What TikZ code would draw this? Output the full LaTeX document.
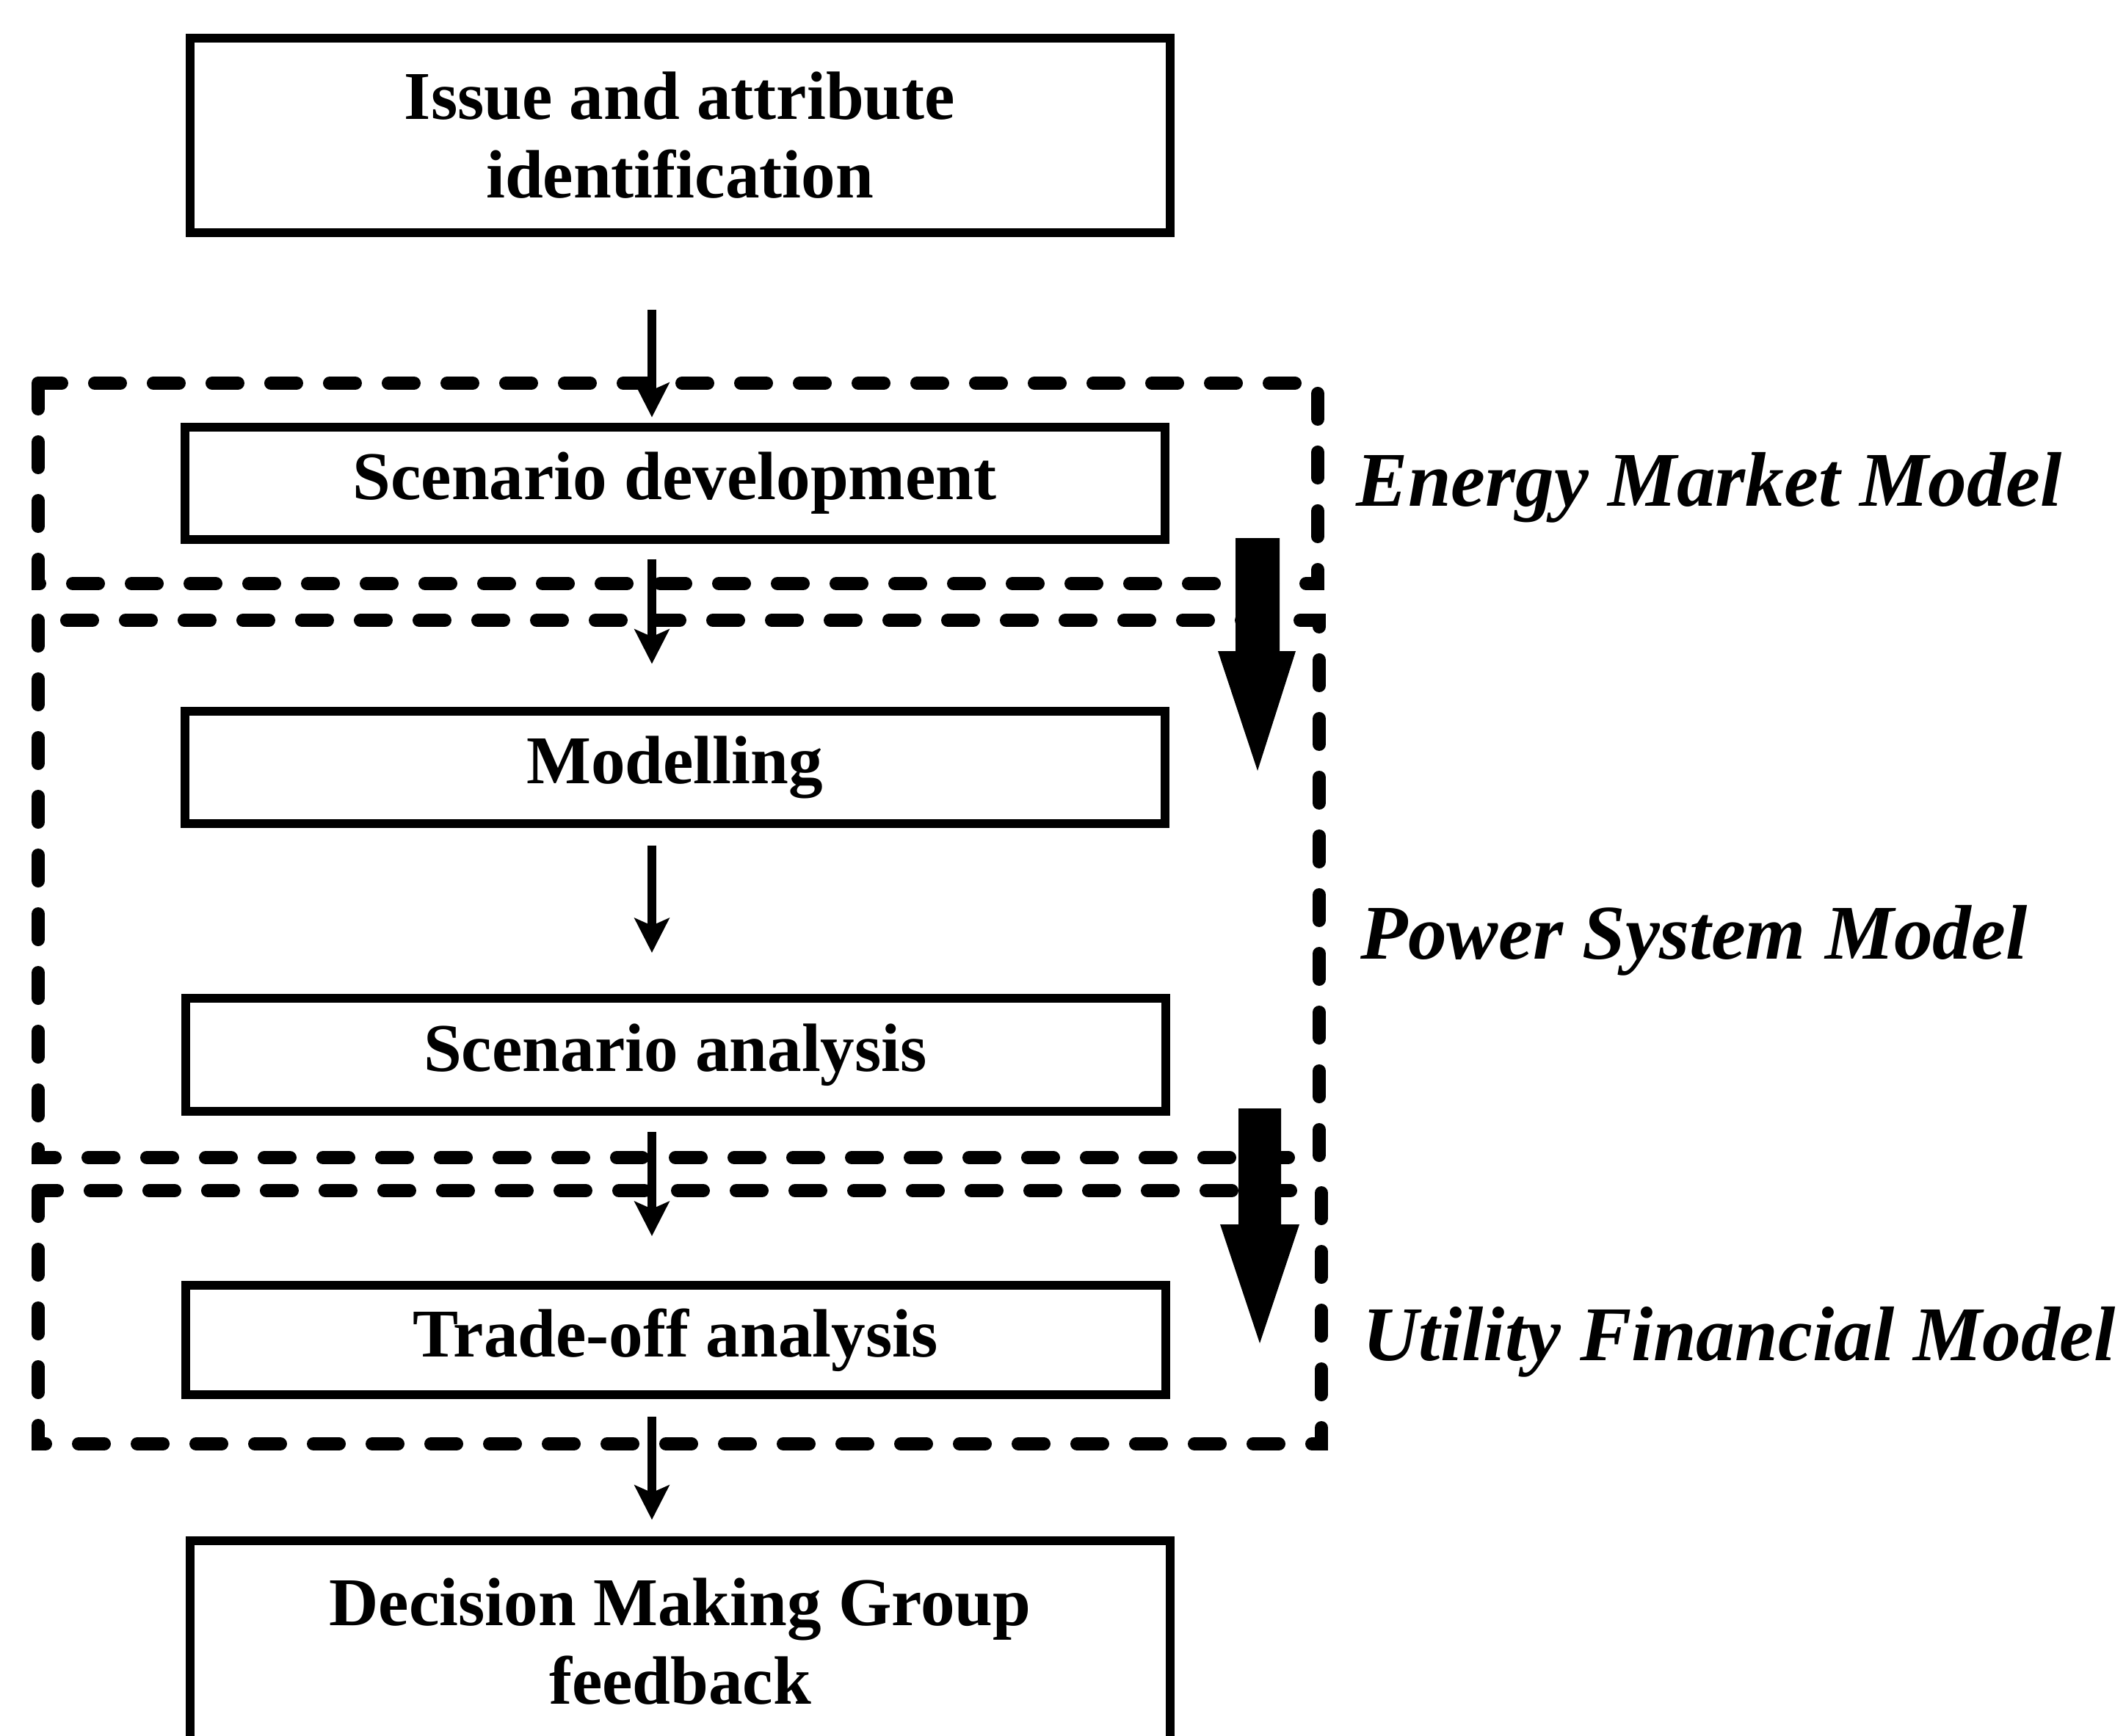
\documentclass[tikz,border=0pt]{standalone}
\usepackage{fontspec}
\setmainfont{Liberation Serif}
\usetikzlibrary{arrows.meta}
\begin{document}
\begin{tikzpicture}[
        box/.style={draw,line width=0.12cm,minimum width=13.35cm,align=center,
            font=\fontsize{26.5}{30.5}\selectfont\bfseries},
        region/.style={line width=0.18cm,line cap=round,dash pattern=on 0.35cm off 0.45cm},
        flow/.style={line width=0.12cm,-{Stealth[length=0.47cm,width=0.47cm,inset=0.1cm]}},
        model/.style={anchor=base west,inner sep=0pt,
            font=\fontsize{30}{32}\selectfont\bfseries\itshape}]
        \useasboundingbox (0,0) rectangle (28.96,-23.65);
        %% Model regions
        \draw[region] (0.52,-5.22) rectangle (17.95,-7.95);
        \draw[region] (0.52,-8.45) rectangle (17.97,-15.77);
        \draw[region] (0.52,-16.22) rectangle (18.0,-19.67);
        %% Hand-over arrows
        \fill (16.83,-7.33) -- (17.43,-7.33) -- (17.43,-8.87) -- (17.65,-8.87)
            -- (17.13,-10.50) -- (16.59,-8.87) -- (16.83,-8.87) -- cycle;
        \fill (16.87,-15.10) -- (17.45,-15.10) -- (17.45,-16.68) -- (17.70,-16.68)
            -- (17.16,-18.30) -- (16.62,-16.68) -- (16.87,-16.68) -- cycle;
        %% Steps
        \node[box,minimum height=2.65cm] (issue) at (9.26,-1.845) {Issue and attribute\\identification};
        \node[box,minimum height=1.52cm] (scen) at (9.19,-6.585) {Scenario development};
        \node[box,minimum height=1.53cm] (model) at (9.19,-10.45) {Modelling};
        \node[box,minimum height=1.54cm] (anal) at (9.2,-14.37) {Scenario analysis};
        \node[box,minimum height=1.49cm] (trade) at (9.2,-18.255) {Trade-off analysis};
        \node[box,minimum height=2.75cm] (dec) at (9.265,-22.36) {Decision Making Group\\feedback};
        %% Flow
        \coordinate (ax) at (8.88,0);
        \draw[flow,shorten <=0.99cm,shorten >=0.08cm] (issue.south -| ax) -- (scen.north -| ax);
        \draw[flow,shorten <=0.21cm,shorten >=0.58cm] (scen.south -| ax) -- (model.north -| ax);
        \draw[flow,shorten <=0.24cm,shorten >=0.56cm] (model.south -| ax) -- (anal.north -| ax);
        \draw[flow,shorten <=0.22cm,shorten >=0.61cm] (anal.south -| ax) -- (trade.north -| ax);
        \draw[flow,shorten <=0.24cm,shorten >=0.22cm] (trade.south -| ax) -- (dec.north -| ax);
        %% Labels
        \node[model] (energy) at (18.47,-6.89) {Energy Market Model};
        \node[model] (power) at (18.53,-13.06) {Power System Model};
        \node[model] (utility) at (18.56,-18.53) {Utility Financial Model};
    \end{tikzpicture}
\end{document}
